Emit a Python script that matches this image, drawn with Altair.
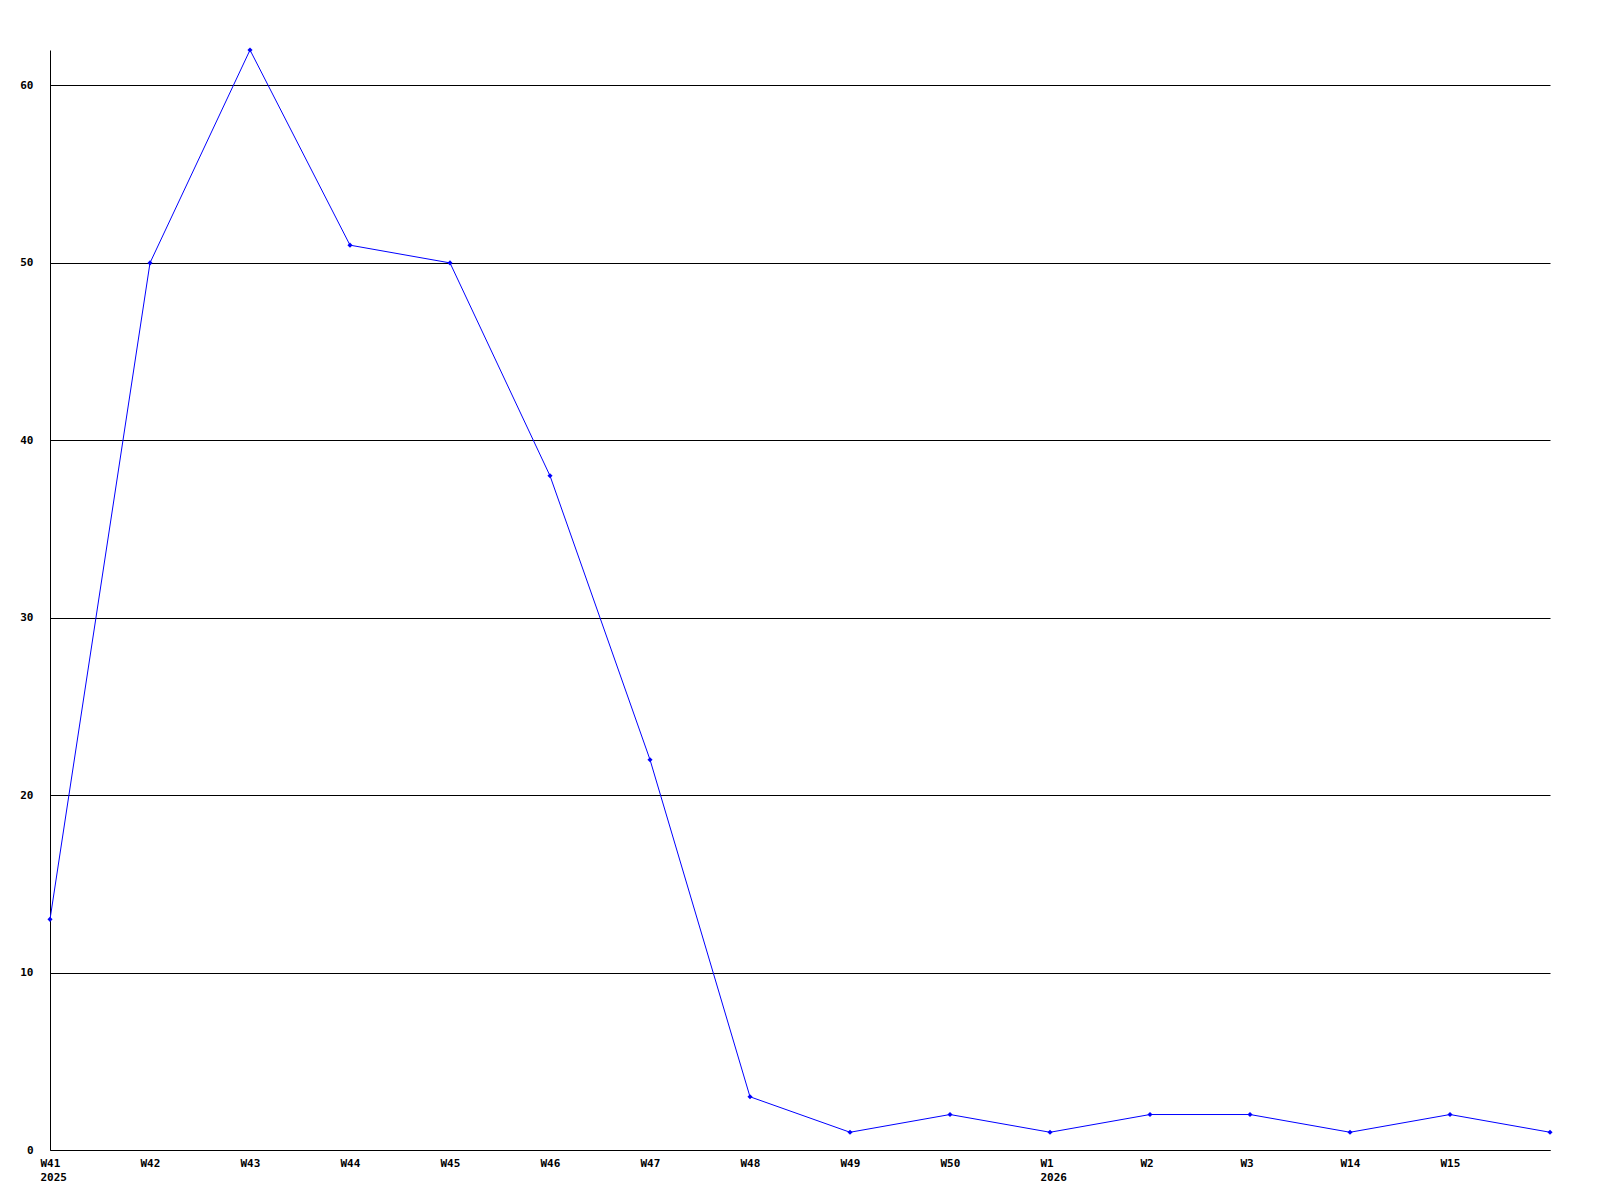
import altair as alt
import pandas as pd

weeks = ["W41", "W42", "W43", "W44", "W45", "W46", "W47", "W48", "W49", "W50",
         "W1", "W2", "W3", "W14", "W15", "W16"]
values = [13, 50, 62, 51, 50, 38, 22, 3, 1, 2, 1, 2, 2, 1, 2, 1]
year_labels = {"W41": "2025", "W1": "2026"}
hidden_labels = ["W16"]
y_ticks = [0, 10, 20, 30, 40, 50, 60]

df = pd.DataFrame({"week": weeks, "value": values})

label_expr = ""
for w, yr in year_labels.items():
    label_expr += f"datum.value == '{w}' ? ['{w}', '{yr}'] : "
for w in hidden_labels:
    label_expr += f"datum.value == '{w}' ? '' : "
label_expr += "datum.value"

FONT = "DejaVu Sans Mono"

x_enc = alt.X("week:N", sort=weeks,
              scale=alt.Scale(type="point", padding=0),
              axis=alt.Axis(title=None, labelAngle=0, ticks=False, grid=False,
                            domainColor="black", domainWidth=1,
                            labelAlign="left", labelOffset=-10, labelBaseline="top",
                            labelPadding=7, labelLineHeight=14,
                            labelFont=FONT, labelFontWeight="bold", labelFontSize=11,
                            labelColor="black", labelOverlap=False, labelBound=False,
                            labelFlush=False, labelExpr=label_expr))
y_enc = alt.Y("value:Q",
              scale=alt.Scale(domain=[0, max(values)], nice=False, zero=True),
              axis=alt.Axis(title=None, values=y_ticks, ticks=False, grid=True,
                            gridColor="black", gridWidth=1, gridOpacity=1,
                            domainColor="black", domainWidth=1,
                            labelPadding=17, labelFont=FONT, labelFontWeight="bold",
                            labelFontSize=11, labelColor="black", labelBaseline="middle",
                            labelOverlap=False, labelFlush=False))

base = alt.Chart(df)
line = base.mark_line(color="#0000ff", strokeWidth=1).encode(x=x_enc, y=y_enc)
pts = base.mark_point(shape="diamond", filled=True, color="#0000ff", size=26, opacity=1).encode(x=x_enc, y=y_enc)

chart = (line + pts).properties(
    width=1500, height=1100,
    autosize=alt.AutoSizeParams(type="none"),
    padding={"left": 42, "top": 42, "right": 20, "bottom": 40},
).configure(background="white").configure_view(stroke="transparent", strokeWidth=0)

chart.save("out.html", embed_options={"renderer": "svg", "actions": False})
